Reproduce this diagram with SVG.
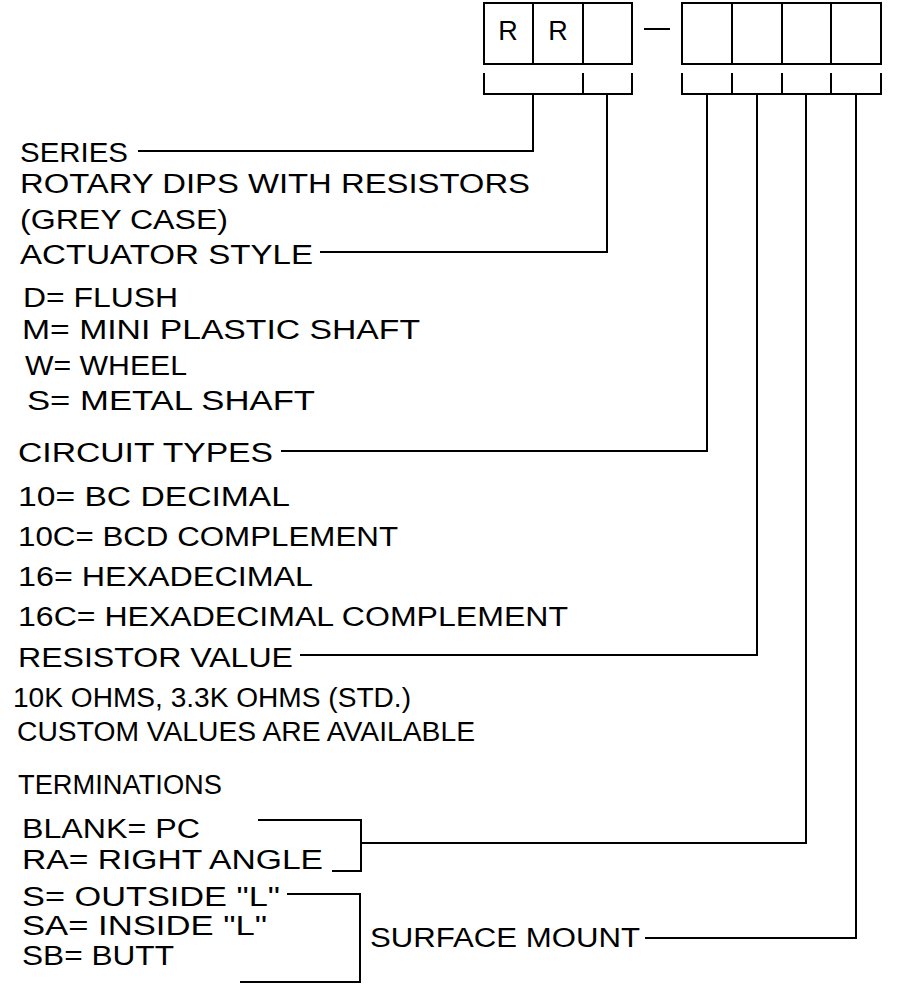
<svg xmlns="http://www.w3.org/2000/svg" width="899" height="985" viewBox="0 0 899 985">
<style>
.t{font-family:"Liberation Sans",Arial,sans-serif;font-size:27px;fill:#000}
.ln{fill:none;stroke:#000;stroke-width:2}
</style>
<rect width="899" height="985" fill="#fff"/>
<g id="code-boxes">
<rect class="ln" x="484" y="3" width="148" height="61"/>
<line class="ln" x1="533" y1="3" x2="533" y2="64"/>
<line class="ln" x1="583" y1="3" x2="583" y2="64"/>
<text class="t" x="508" y="40" text-anchor="middle" font-size="28">R</text>
<text class="t" x="558" y="40" text-anchor="middle" font-size="28">R</text>
<line class="ln" x1="644" y1="29" x2="670" y2="29"/>
<rect class="ln" x="682" y="3" width="199" height="61"/>
<line class="ln" x1="732" y1="3" x2="732" y2="64"/>
<line class="ln" x1="782" y1="3" x2="782" y2="64"/>
<line class="ln" x1="831" y1="3" x2="831" y2="64"/>
</g>
<g id="connectors">
<path class="ln" d="M484,73V94H632V73M583,73V94"/>
<path class="ln" d="M682,73V94H881V73M732,73V94M782,73V94M831,73V94"/>
<path class="ln" d="M533,94V151H138"/>
<path class="ln" d="M607,94V252H320"/>
<path class="ln" d="M707,94V451H281"/>
<path class="ln" d="M757,94V655H300"/>
<path class="ln" d="M806,94V843H361"/>
<path class="ln" d="M856,94V938H645"/>
<path class="ln" d="M258,820H361V871H332"/>
<path class="ln" d="M287,894H360V982H240"/>
</g>
<g id="series">
<text class="t" x="20" y="162" textLength="108" lengthAdjust="spacingAndGlyphs">SERIES</text>
<text class="t" x="20" y="193" textLength="510" lengthAdjust="spacingAndGlyphs">ROTARY DIPS WITH RESISTORS</text>
<text class="t" x="20" y="229" textLength="208" lengthAdjust="spacingAndGlyphs">(GREY CASE)</text>
</g>
<g id="actuator">
<text class="t" x="20" y="264" textLength="293" lengthAdjust="spacingAndGlyphs">ACTUATOR STYLE</text>
<text class="t" x="23" y="307" textLength="155" lengthAdjust="spacingAndGlyphs">D= FLUSH</text>
<text class="t" x="22" y="339" textLength="398" lengthAdjust="spacingAndGlyphs">M= MINI PLASTIC SHAFT</text>
<text class="t" x="25" y="375" textLength="162" lengthAdjust="spacingAndGlyphs">W= WHEEL</text>
<text class="t" x="27" y="410" textLength="288" lengthAdjust="spacingAndGlyphs">S= METAL SHAFT</text>
</g>
<g id="circuit">
<text class="t" x="18" y="462" textLength="255" lengthAdjust="spacingAndGlyphs">CIRCUIT TYPES</text>
<text class="t" x="18" y="506" textLength="272" lengthAdjust="spacingAndGlyphs">10= BC DECIMAL</text>
<text class="t" x="18" y="546" textLength="380" lengthAdjust="spacingAndGlyphs">10C= BCD COMPLEMENT</text>
<text class="t" x="18" y="586" textLength="295" lengthAdjust="spacingAndGlyphs">16= HEXADECIMAL</text>
<text class="t" x="18" y="626" textLength="550" lengthAdjust="spacingAndGlyphs">16C= HEXADECIMAL COMPLEMENT</text>
</g>
<g id="resistor">
<text class="t" x="18" y="667" textLength="275" lengthAdjust="spacingAndGlyphs">RESISTOR VALUE</text>
<text class="t" x="13" y="707" textLength="398" lengthAdjust="spacingAndGlyphs">10K OHMS, 3.3K OHMS (STD.)</text>
<text class="t" x="17" y="741" textLength="458" lengthAdjust="spacingAndGlyphs">CUSTOM VALUES ARE AVAILABLE</text>
</g>
<g id="terminations">
<text class="t" x="18" y="794" textLength="204" lengthAdjust="spacingAndGlyphs">TERMINATIONS</text>
<text class="t" x="22" y="838" textLength="178" lengthAdjust="spacingAndGlyphs">BLANK= PC</text>
<text class="t" x="22" y="869" textLength="301" lengthAdjust="spacingAndGlyphs">RA= RIGHT ANGLE</text>
<text class="t" x="22" y="906" textLength="258" lengthAdjust="spacingAndGlyphs">S= OUTSIDE "L"</text>
<text class="t" x="22" y="935" textLength="245" lengthAdjust="spacingAndGlyphs">SA= INSIDE "L"</text>
<text class="t" x="22" y="965" textLength="152" lengthAdjust="spacingAndGlyphs">SB= BUTT</text>
</g>
<g id="surface-mount">
<text class="t" x="370" y="947" textLength="270" lengthAdjust="spacingAndGlyphs">SURFACE MOUNT</text>
</g>
</svg>
